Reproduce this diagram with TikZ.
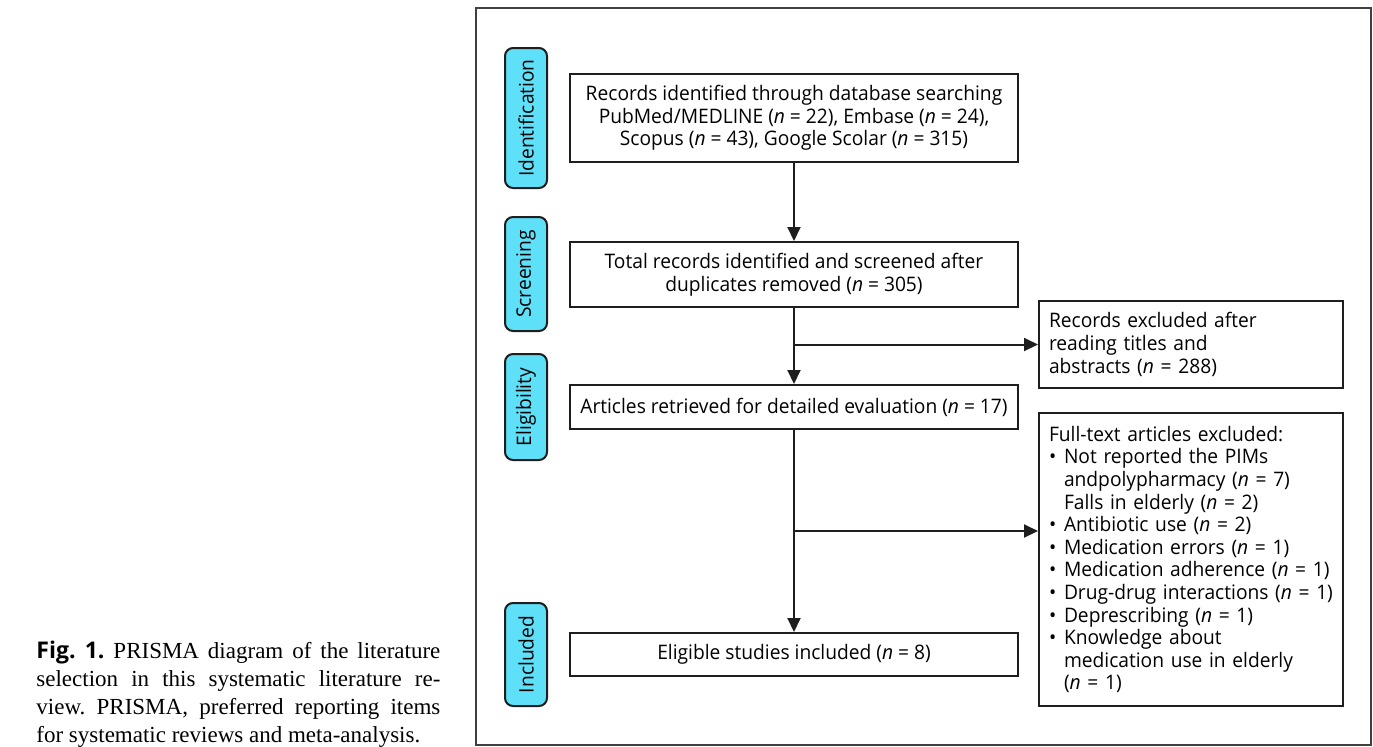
\documentclass[tikz,border=0pt]{standalone}
\usepackage{fontspec}
\setmainfont{Liberation Serif}
\newfontfamily\diafont[FakeStretch=0.96]{Open Sans}
\newfontfamily\capfont{Open Sans}
\usetikzlibrary{shapes,arrows.meta}
\definecolor{stagecyan}{HTML}{5DE0F8}
\definecolor{linegray}{HTML}{1E1E1E}
\newcommand{\nn}{\textit{n}}
\newcommand{\bul}{\makebox[7.5pt][l]{\textbullet}}
\newcommand{\ind}{\hspace*{7.5pt}}

\begin{document}
\begin{tikzpicture}[x=0.5pt,y=-0.5pt,
  font=\diafont\fontsize{10}{11.3}\selectfont,
  stage/.style={draw=linegray, line width=1pt, fill=stagecyan, rounded corners=4pt, rotate=90, inner sep=0pt, minimum height=21pt},
  box/.style={draw=linegray, line width=1pt, minimum width=224pt, inner sep=0pt, align=center},
  exbox/.style={draw=linegray, line width=1pt, minimum width=152pt, text width=142pt, inner xsep=5pt, inner ysep=0pt, align=left},
  flow/.style={draw=linegray, line width=1pt, -{Triangle[length=7pt,width=6.5pt]}}]
\useasboundingbox (0,0) rectangle (1373,746);
\draw[black!75, line width=0.6pt] (476,8) rectangle (1371,745);

\node[stage, minimum width=70pt] (idlab) at (526,118) {Identification};
\node[stage, minimum width=57pt] (scrlab) at (526,274) {Screening};
\node[stage, minimum width=53pt] (eliglab) at (526,407) {Eligibility};
\node[stage, minimum width=51.5pt] (incllab) at (526,654.5) {Included};

\node[box, minimum height=44pt] (rec) at (794,118) {Records identified through database searching\\PubMed/MEDLINE (\nn{} = 22), Embase (\nn{} = 24),\\Scopus (\nn{} = 43), Google Scolar (\nn{} = 315)};
\node[box, minimum height=32.5pt] (scr) at (794,274.5) {Total records identified and screened after\\duplicates removed (\nn{} = 305)};
\node[box, minimum height=22pt] (elig) at (794,407) {Articles retrieved for detailed evaluation (\nn{} = 17)};
\node[box, minimum height=21.5pt] (incl) at (794,654.5) {Eligible studies included (\nn{} = 8)};

\node[exbox, minimum height=43.5pt] (exa) at (1191,344.5) {Records excluded after\\reading titles and\\abstracts (\nn{} = 288)};
\node[exbox, minimum height=146.5pt] (exb) at (1191,559.5) {Full-text articles excluded:\\
\bul Not reported the PIMs\\
\ind andpolypharmacy (\nn{} = 7)\\
\ind Falls in elderly (\nn{} = 2)\\
\bul Antibiotic use (\nn{} = 2)\\
\bul Medication errors (\nn{} = 1)\\
\bul Medication adherence (\nn{} = 1)\\
\bul Drug-drug interactions (\nn{} = 1)\\
\bul Deprescribing (\nn{} = 1)\\
\bul Knowledge about\\
\ind medication use in elderly\\
\ind (\nn{} = 1)};

\coordinate (cut) at (0,531);
\draw[flow] (rec) -- (scr);
\draw[flow] (scr) -- (elig);
\draw[flow] (scr.south |- exa.west) -- (exa.west);
\draw[flow] (elig) -- (incl);
\draw[flow] (elig.south |- cut) -- (exb.west |- cut);

\node[anchor=north west, text width=202pt, align=justify, inner sep=0pt, font=\rmfamily\frenchspacing\fontsize{11.5}{14}\selectfont] (caption) at (36,641) {{\capfont\bfseries Fig. 1.} PRISMA diagram of the literature\linebreak selection in this systematic literature re-\linebreak view. PRISMA, preferred reporting items\linebreak for systematic reviews and meta-analysis.};
\end{tikzpicture}
\end{document}
